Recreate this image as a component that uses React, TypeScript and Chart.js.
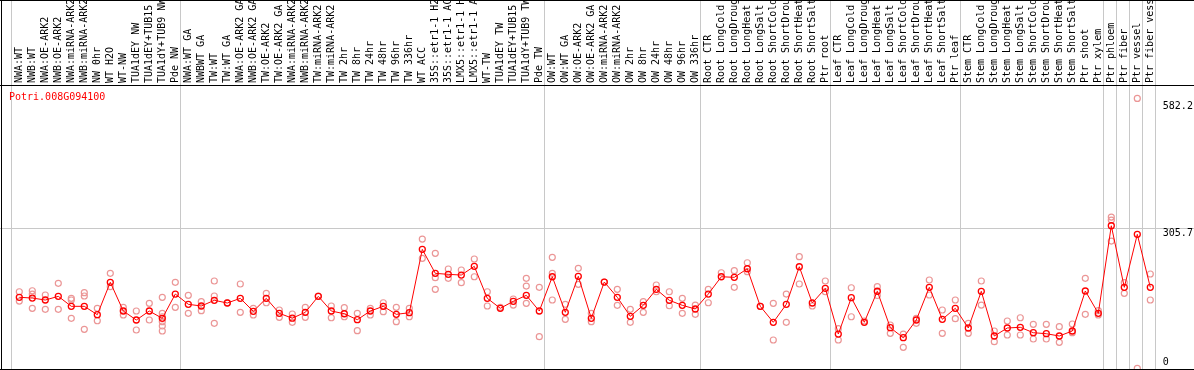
import React, { useEffect, useRef } from 'react';
import { Chart, registerables } from 'chart.js';

Chart.register(...registerables);

const geneId = 'Potri.008G094100';

const categories: string[] = [
  'NWA:WT', 'NWB:WT', 'NWA:OE-ARK2', 'NWB:OE-ARK2', 'NWA:miRNA-ARK2', 'NWB:miRNA-ARK2', 'NW 0hr', 'WT H2O', 'WT-NW',
  'TUA1dEY NW', 'TUA1dEY+TUB15 NW', 'TUA1dY+TUB9 NW', 'Pde NW',
  'NWA:WT GA', 'NWBWT GA', 'TW:WT', 'TW:WT GA', 'NWA:OE-ARK2 GA', 'NWB:OE-ARK2 GA', 'TW:OE-ARK2', 'TW:OE-ARK2 GA',
  'NWA:miRNA-ARK2', 'NWB:miRNA-ARK2', 'TW:miRNA-ARK2', 'TW:miRNA-ARK2', 'TW 2hr', 'TW 8hr', 'TW 24hr', 'TW 48hr',
  'TW 96hr', 'TW 336hr', 'WT ACC', '35S::etr1-1 H2O', '35S::etr1-1 ACC', 'LMX5::etr1-1 H2O', 'LMX5::etr1-1 ACC',
  'WT-TW', 'TUA1dEY TW', 'TUA1dEY+TUB15 TW', 'TUA1dY+TUB9 TW', 'Pde TW',
  'OW:WT', 'OW:WT GA', 'OW:OE-ARK2', 'OW:OE-ARK2 GA', 'OW:miRNA-ARK2', 'OW:miRNA-ARK2', 'OW 2hr', 'OW 8hr',
  'OW 24hr', 'OW 48hr', 'OW 96hr', 'OW 336hr',
  'Root CTR', 'Root LongCold', 'Root LongDrought', 'Root LongHeat', 'Root LongSalt', 'Root ShortCold',
  'Root ShortDrought', 'Root ShortHeat', 'Root ShortSalt', 'Ptr root',
  'Leaf CTR', 'Leaf LongCold', 'Leaf LongDrought', 'Leaf LongHeat', 'Leaf LongSalt', 'Leaf ShortCold',
  'Leaf ShortDrought', 'Leaf ShortHeat', 'Leaf ShortSalt', 'Ptr leaf',
  'Stem CTR', 'Stem LongCold', 'Stem LongDrought', 'Stem LongHeat', 'Stem LongSalt', 'Stem ShortCold',
  'Stem ShortDrought', 'Stem ShortHeat', 'Stem ShortSalt', 'Ptr shoot', 'Ptr xylem',
  'Ptr phloem', 'Ptr fiber', 'Ptr vessel', 'Ptr fiber vessel',
];

// index of the first category of each group (last entry = end)
const groupStarts: number[] = [0, 13, 41, 53, 63, 73, 84, 85, 86, 87, 88];

const meanValues: number[] = [
  155.8, 154.2, 149.9, 157.9, 136.2, 136.2, 118.0, 188.4, 126.0, 106.5, 126.0, 110.1, 162.9,
  140.6, 136.9, 149.3, 143.4, 153.6, 125.4, 153.6, 121.0, 110.4, 123.2, 157.9, 126.0, 120.1, 107.1, 126.0,
  136.2, 118.8, 122.3, 260.0, 207.9, 205.7, 204.2, 223.1, 153.6, 131.9, 147.1, 160.1, 126.0,
  200.5, 123.2, 201.4, 110.1, 189.0, 155.8, 114.5, 138.4, 173.1, 149.3, 138.4, 130.4,
  162.9, 200.5, 199.2, 217.9, 136.2, 101.5, 140.6, 222.2, 143.4, 175.3,
  76.0, 154.9, 101.5, 169.0, 89.7, 68.0, 106.5, 177.5, 108.0, 131.9,
  89.1, 168.8, 71.7, 89.1, 90.6, 78.9, 76.7, 71.7, 82.6, 169.5, 121.0,
  311.3, 177.5, 292.6, 177.5,
];

const replicateValues: number[][] = [
  [167.9, 147.7], [170.1, 162.9, 131.9], [160.8, 129.7], [186.2, 129.7], [153.6, 149.9, 110.1],
  [165.8, 158.6, 86.2], [131.9, 104.9], [207.9, 178.8], [134.0, 117.3], [126.0, 84.7], [142.7, 106.5],
  [155.8, 121.0, 113.6, 102.8, 93.4, 82.6], [188.4, 134.0],
  [160.1, 121.0], [146.2, 126.7], [191.2, 158.6, 99.3], [144.0], [184.7, 123.2], [131.9, 117.3],
  [164.5, 144.0], [128.2, 112.3], [119.5, 101.5], [134.0, 112.3], [158.6], [136.9, 111.4],
  [133.2, 113.6], [121.0, 83.2], [131.9, 117.3], [144.0, 124.5], [134.0, 102.8], [131.9, 113.6],
  [282.4, 240.5], [251.4, 198.4, 173.1], [217.3, 197.0], [215.1, 187.5], [239.0, 200.5],
  [167.9, 136.9], [134.0], [152.1, 139.0], [197.0, 180.3, 142.7], [177.5, 70.2],
  [242.7, 207.9, 149.9], [140.6, 108.0], [218.8, 184.0], [121.0, 102.8], [189.0], [173.1, 138.4],
  [129.7, 101.5], [146.2, 123.2], [182.5, 167.9], [167.9, 137.5], [153.6, 121.0], [139.0, 118.8],
  [173.1, 144.0], [209.2], [213.6, 177.5], [230.9, 211.4], [136.2], [142.7, 63.0], [162.9, 101.5],
  [244.0, 184.7], [136.9], [191.2, 167.9],
  [87.6, 63.0], [176.6, 113.6], [104.3], [178.8, 159.7], [95.6, 77.6], [76.0, 47.1], [110.1, 99.3],
  [193.4, 160.8], [128.2, 77.6], [149.9, 109.3],
  [99.3, 77.6], [191.2, 139.0], [82.6, 59.3], [104.3, 73.9], [111.4, 73.9], [97.1, 65.2], [97.1, 65.2],
  [91.9, 58.0], [97.8, 78.9], [197.0, 118.8], [126.7, 117.3],
  [330.2, 323.7, 278.1], [187.5, 164.5], [588.1, 1.5], [206.4, 149.9],
];

const yTickValues: number[] = [0, 305.7, 582.2];
const yMax = 615;

const MONO = '10px "DejaVu Sans Mono", "Liberation Mono", monospace';

export default function App() {
  const ref = useRef<HTMLCanvasElement>(null);

  useEffect(() => {
    document.body.style.margin = '0';
    const canvas = ref.current;
    if (!canvas) return;

    const decorPlugin = {
      id: 'decor',
      beforeDatasetsDraw(chart: any) {
        const { ctx, chartArea } = chart;
        const xs = chart.scales.x;
        const ys = chart.scales.y;
        ctx.save();
        ctx.fillStyle = '#c8c8c8';
        const gy = Math.round(ys.getPixelForValue(yTickValues[1]));
        ctx.fillRect(0, gy, chart.width, 1);
        groupStarts.forEach((b) => {
          const gx = Math.round(xs.getPixelForValue(b - 0.5) - 1.5);
          ctx.fillRect(gx, 0, 1, chartArea.bottom);
        });
        ctx.restore();
      },
      afterDatasetsDraw(chart: any) {
        const { ctx, chartArea } = chart;
        const xs = chart.scales.x;
        const ys = chart.scales.y;
        const W = chart.width;
        ctx.save();
        // frame
        ctx.fillStyle = '#000000';
        ctx.fillRect(0, 0, W, 1);
        ctx.fillRect(0, chartArea.top - 1, W, 1);
        ctx.fillRect(0, chartArea.bottom, W, 1);
        ctx.fillRect(1, 0, 1, chart.height);

        // category labels (rotated)
        ctx.save();
        ctx.beginPath();
        ctx.rect(0, 1, W, chartArea.top - 2);
        ctx.clip();
        ctx.font = MONO;
        ctx.fillStyle = '#000000';
        ctx.textAlign = 'left';
        ctx.textBaseline = 'middle';
        categories.forEach((label, i) => {
          const x = xs.getPixelForValue(i);
          ctx.save();
          ctx.translate(x, chartArea.top - 3);
          ctx.rotate(-Math.PI / 2);
          ctx.fillText(label, 0, 0);
          ctx.restore();
        });
        ctx.restore();

        // title
        ctx.font = MONO;
        ctx.fillStyle = '#ff0000';
        ctx.textAlign = 'left';
        ctx.textBaseline = 'middle';
        ctx.fillText(geneId, 9, chartArea.top + 11);

        // y tick labels on the right
        ctx.fillStyle = '#000000';
        yTickValues.forEach((v) => {
          const py = ys.getPixelForValue(v);
          const y = Math.min(py + 5, chartArea.bottom - 7);
          ctx.fillText(String(v), chartArea.right + 6, y);
        });
        ctx.restore();
      },
    };

    const chart = new Chart(canvas, {
      type: 'line',
      data: {
        datasets: [
          {
            label: 'mean',
            data: meanValues.map((v, i) => ({ x: i, y: v })),
            borderColor: '#ff0000',
            borderWidth: 1,
            pointRadius: 3,
            pointBorderWidth: 1.3,
            pointBorderColor: '#ff0000',
            pointBackgroundColor: 'rgba(0,0,0,0)',
            tension: 0,
          },
          {
            label: 'replicates',
            data: replicateValues.flatMap((reps, i) => reps.map((v) => ({ x: i, y: v }))),
            showLine: false,
            borderColor: '#eb9696',
            pointRadius: 3,
            pointBorderWidth: 1.2,
            pointBorderColor: '#eb9696',
            pointBackgroundColor: 'rgba(0,0,0,0)',
          },
        ],
      },
      options: {
        responsive: false,
        devicePixelRatio: 1,
        animation: false,
        events: [],
        layout: { autoPadding: false, padding: { left: 12.8, right: 37.2, top: 86, bottom: 1 } },
        scales: {
          x: { type: 'linear', min: -0.5, max: categories.length - 0.5, display: false },
          y: { type: 'linear', min: 0, max: yMax, display: false },
        },
        plugins: { legend: { display: false }, tooltip: { enabled: false }, title: { display: false } },
      },
      plugins: [decorPlugin],
    });

    return () => chart.destroy();
  }, []);

  return (
    <div style={{ position: 'absolute', left: 0, top: 0, width: 1194, height: 370, background: '#ffffff' }}>
      <canvas ref={ref} width={1194} height={370} style={{ display: 'block' }} />
    </div>
  );
}
